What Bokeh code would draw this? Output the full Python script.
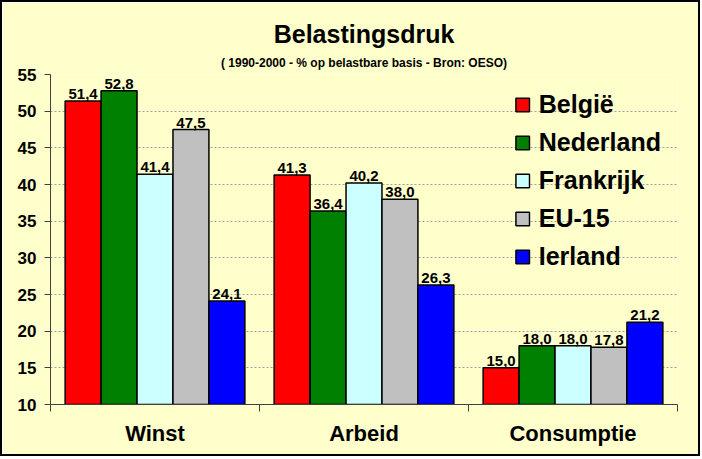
from bokeh.plotting import figure
from bokeh.models import Range1d, FixedTicker, Title, ColumnDataSource, Legend
from bokeh.core.properties import value
from bokeh.embed import file_html
from bokeh.resources import INLINE

categories = ["Winst", "Arbeid", "Consumptie"]
countries = ["België", "Nederland", "Frankrijk", "EU-15", "Ierland"]
belgie = [51.4, 41.3, 15.0]
nederland = [52.8, 36.4, 18.0]
frankrijk = [41.4, 40.2, 18.0]
eu15 = [47.5, 38.0, 17.8]
ierland = [24.1, 26.3, 21.2]
series = [belgie, nederland, frankrijk, eu15, ierland]
colors = ["#FF0000", "#008000", "#CCFFFF", "#C0C0C0", "#0000FF"]
y_ticks = [10, 15, 20, 25, 30, 35, 40, 45, 50, 55]

BG = "#FFFFCC"
FONT = "Liberation Sans"

p = figure(width=700, height=456, output_backend="svg", toolbar_location=None,
           x_range=Range1d(0, 3), y_range=Range1d(10, 55),
           min_border_left=48, min_border_right=25, min_border_bottom=54, min_border_top=72)
p.styles = {"border": "2px solid black"}
p.background_fill_color = BG
p.border_fill_color = BG
p.outline_line_color = None

w = 0.172
renderers = []
for j, (name, vals, col) in enumerate(zip(countries, series, colors)):
    xs = [i + 0.5 + (j - 2) * w for i in range(len(categories))]
    src = ColumnDataSource(dict(x=xs, top=vals, lab=[f"{v:.1f}".replace(".", ",") for v in vals]))
    r = p.vbar(x="x", top="top", bottom=10, width=w, source=src,
               fill_color=col, line_color="black", line_width=1.5)
    renderers.append((name, [r]))
    p.text(x="x", y="top", text="lab", source=src, text_align="center",
           text_baseline="bottom", y_offset=-2, text_font=value(FONT),
           text_font_size="15px", text_font_style="bold", text_color="black")

legend = Legend(items=renderers, location="top_right", border_line_color=None,
                background_fill_alpha=0, label_text_font=FONT, label_text_font_size="25px",
                label_text_font_style="bold", label_text_color="black",
                glyph_width=17, glyph_height=17,
                spacing=9, padding=6, margin=16, label_standoff=8)
p.add_layout(legend)

# axes
p.xaxis.ticker = FixedTicker(ticks=[0.5, 1.5, 2.5], minor_ticks=[0, 1, 2, 3])
p.xaxis.major_label_overrides = {0.5: categories[0], 1.5: categories[1], 2.5: categories[2]}
p.xaxis.major_tick_line_color = None
p.xaxis.minor_tick_out = 7
p.xaxis.minor_tick_in = 0
p.xaxis.minor_tick_line_color = "#404040"
p.xaxis.axis_line_color = "#404040"
p.xaxis.major_label_text_font = FONT
p.xaxis.major_label_text_font_size = "22px"
p.xaxis.major_label_text_font_style = "bold"
p.xaxis.major_label_text_color = "black"
p.xaxis.major_label_standoff = 9

p.yaxis.ticker = FixedTicker(ticks=y_ticks, minor_ticks=[])
p.yaxis.major_tick_out = 6
p.yaxis.major_tick_in = 0
p.yaxis.major_tick_line_color = "#404040"
p.yaxis.axis_line_color = "#404040"
p.yaxis.major_label_text_font = FONT
p.yaxis.major_label_text_font_size = "17px"
p.yaxis.major_label_text_font_style = "bold"
p.yaxis.major_label_text_color = "black"
p.yaxis.major_label_standoff = 8

p.xgrid.grid_line_color = None
p.ygrid.grid_line_color = "#A0A0A0"
p.ygrid.grid_line_dash = "2 2"
p.ygrid.grid_line_width = 1

p.add_layout(Title(text="( 1990-2000 - % op belastbare basis - Bron: OESO)", align="center",
                   text_font=FONT, text_font_size="12px", text_font_style="bold",
                   text_color="black", standoff=10), "above")
p.add_layout(Title(text="Belastingsdruk", align="center", text_font=FONT,
                   text_font_size="25px", text_font_style="bold", text_color="black",
                   standoff=1), "above")

open("out.html", "w").write(file_html(p, INLINE))
